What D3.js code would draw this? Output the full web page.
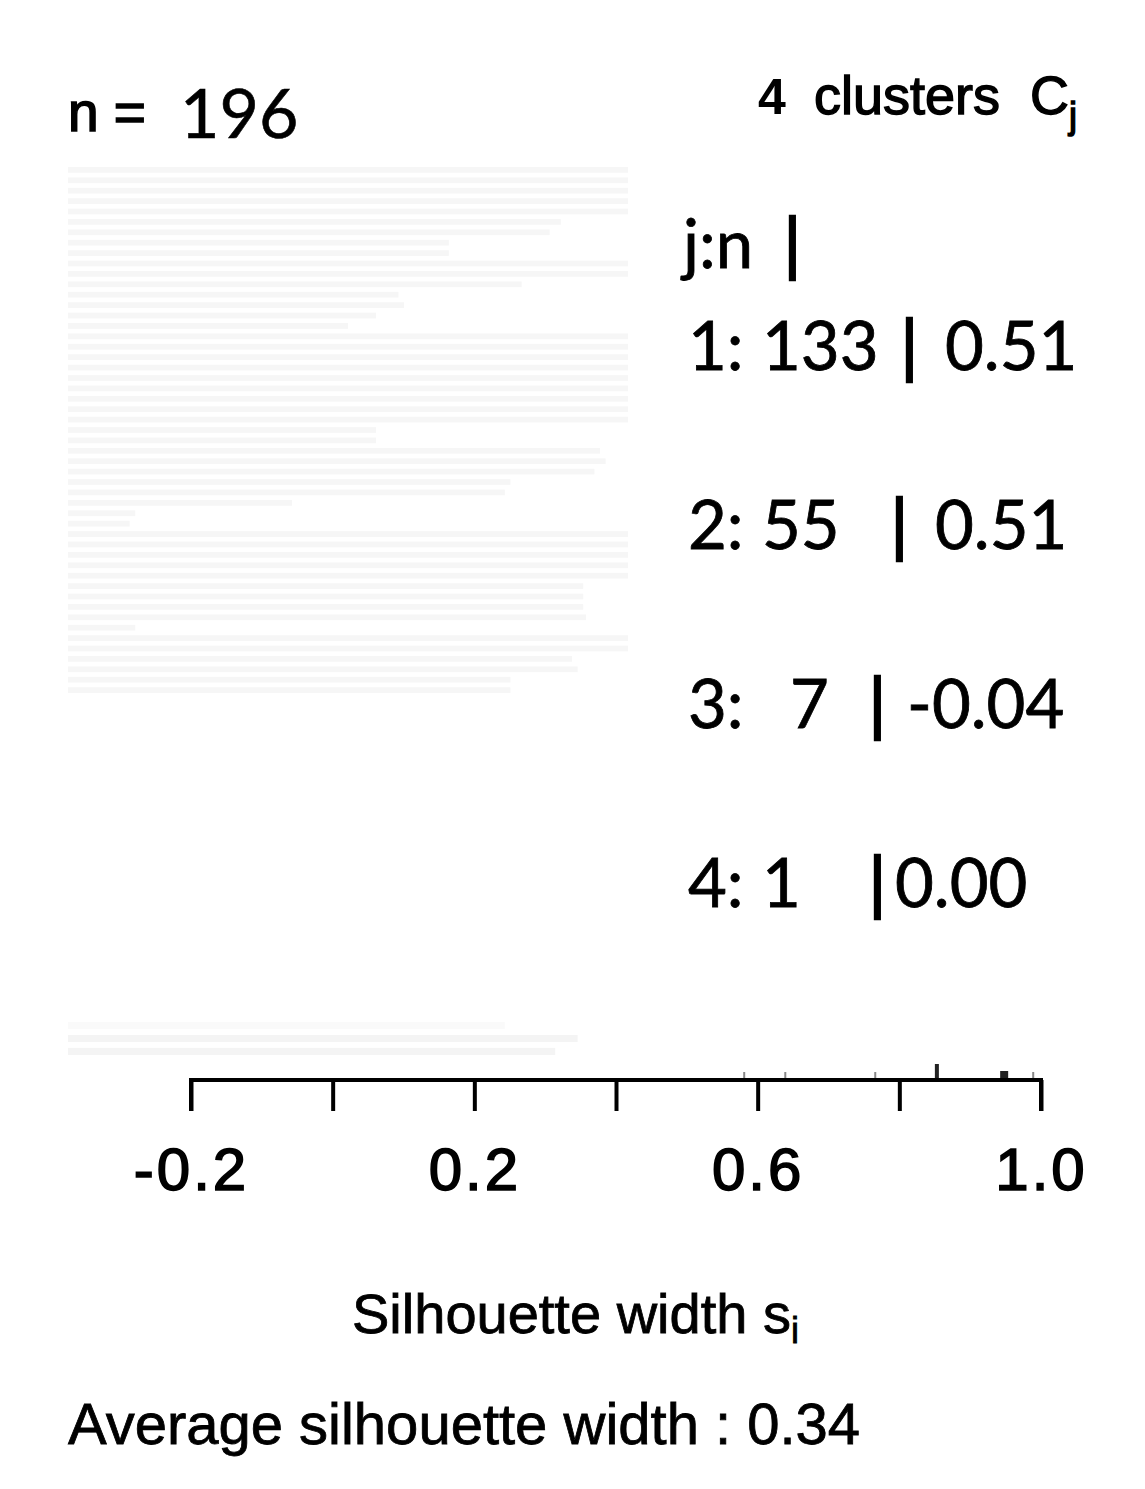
<!DOCTYPE html>
<html>
<head>
<meta charset="utf-8">
<script src="https://cdn.jsdelivr.net/npm/d3@7"></script>
<style>
  html, body { margin: 0; padding: 0; background: #fff; }
  svg { display: block; }
</style>
</head>
<body>
<script>
// ---- Data ----
// relative bar widths of the faint silhouette bars (top block), top to bottom
const barWidths = [
  1.0, 1.0, 1.0, 1.0, 1.0, 0.88, 0.86, 0.68, 0.68, 1.0,
  1.0, 0.81, 0.59, 0.60, 0.55, 0.50, 1.0, 1.0, 1.0, 1.0,
  1.0, 1.0, 1.0, 1.0, 1.0, 0.55, 0.55, 0.95, 0.96, 0.94,
  0.79, 0.78, 0.40, 0.12, 0.11, 1.0, 1.0, 1.0, 1.0, 1.0,
  0.92, 0.92, 0.92, 0.925, 0.12, 1.0, 1.0, 0.90, 0.91, 0.79,
  0.79
];
// faint bars near the bottom
const bottomBarWidths = [0.78, 0.91, 0.87];
// small marks just above the axis (silhouette scale)
const markValues = [0.581, 0.639, 0.766, 0.853, 0.948, 0.989];
const markSizes  = [6, 6, 6, 14, 7, 6];

const axisTicks = [-0.2, 0.0, 0.2, 0.4, 0.6, 0.8, 1.0];
const axisLabels = [-0.2, 0.2, 0.6, 1.0];

const clusterIds    = ["1:", "2:", "3:", "4:"];
const clusterSizes  = ["133", "55", "7", "1"];
const clusterAvg    = ["0.51", "0.51", "-0.04", "0.00"];
const nTotal = 196;
const avgWidth = "0.34";

// ---- Drawing ----
const W = 1145, H = 1489;
const svg = d3.select("body").append("svg").attr("width", W).attr("height", H);

const sans = "'Liberation Sans', Arial, Helvetica, sans-serif";
const calib = "Lato, 'Open Sans', sans-serif";

// faint bar block
const xb = d3.scaleLinear().domain([0, 1]).range([68, 628]);
const yb = d3.scaleBand().domain(d3.range(barWidths.length)).range([167, 693]).paddingInner(0.45);
svg.append("g").selectAll("rect").data(barWidths).join("rect")
  .attr("x", xb(0)).attr("y", (d, i) => yb(i))
  .attr("width", d => xb(d) - xb(0)).attr("height", yb.bandwidth())
  .attr("fill", "#f6f6f6");

const yb2 = d3.scaleBand().domain(d3.range(bottomBarWidths.length)).range([1022, 1055]).paddingInner(0.45);
svg.append("g").selectAll("rect").data(bottomBarWidths).join("rect")
  .attr("x", xb(0)).attr("y", (d, i) => yb2(i))
  .attr("width", d => xb(d) - xb(0)).attr("height", yb2.bandwidth())
  .attr("fill", (d, i) => i === 0 ? "#fafafa" : "#f4f4f4");

// axis
const x = d3.scaleLinear().domain([-0.2, 1.0]).range([191, 1041]);
const axisY = 1080;
const fmt = d => d3.format(".1f")(d).replace("\u2212", "-");
const axis = d3.axisBottom(x).tickValues(axisTicks).tickSize(31).tickSizeOuter(31)
  .tickFormat(d => axisLabels.some(v => Math.abs(v - d) < 1e-9) ? fmt(d) : "");
const gAxis = svg.append("g").attr("transform", `translate(0,${axisY})`).call(axis);
gAxis.select(".domain").attr("stroke", "#000").attr("stroke-width", 4)
  .attr("d", `M${x(-0.2)},31V0H${x(1.0)}V31`);
gAxis.selectAll(".tick line").attr("stroke", "#000").attr("stroke-width", 4);
gAxis.selectAll(".tick text")
  .attr("y", 0).attr("dy", 0)
  .attr("transform", "translate(0,110)")
  .attr("font-family", sans).attr("font-size", 60)
  .attr("letter-spacing", 3)
  .attr("fill", "#000").attr("stroke", "#000").attr("stroke-width", 1.6);

// small marks above axis
svg.append("g").selectAll("rect").data(markValues).join("rect")
  .attr("x", (d, i) => x(d) - (i === 3 ? 2 : (i === 4 ? 4 : 1)))
  .attr("y", (d, i) => axisY - markSizes[i] - 2)
  .attr("width", (d, i) => i === 3 ? 4 : (i === 4 ? 8 : 2))
  .attr("height", (d, i) => markSizes[i])
  .attr("fill", (d, i) => i === 3 || i === 4 ? "#222" : "#888");

// header texts
svg.append("text").attr("x", 68).attr("y", 131)
  .attr("font-family", sans).attr("font-size", 55).attr("fill", "#000")
  .attr("stroke", "#000").attr("stroke-width", 1.6).text("n =");
svg.append("text").attr("x", 180).attr("y", 138)
  .attr("font-family", calib).attr("font-size", 68).attr("fill", "#000")
  .attr("stroke", "#000").attr("stroke-width", 0.6).text(nTotal);

svg.append("text").attr("x", 758).attr("y", 114)
  .attr("font-family", sans).attr("font-size", 50).attr("font-weight", "bold").attr("fill", "#000").text("4");
svg.append("text").attr("x", 814).attr("y", 114)
  .attr("font-family", sans).attr("font-size", 54).attr("fill", "#000")
  .attr("stroke", "#000").attr("stroke-width", 1.4).text("clusters");
const cj = svg.append("text").attr("x", 1030).attr("y", 114)
  .attr("font-family", sans).attr("font-size", 54).attr("fill", "#000")
  .attr("stroke", "#000").attr("stroke-width", 1.4);
cj.append("tspan").text("C");
cj.append("tspan").attr("font-size", 36).attr("dy", 14).text("j");

// legend of clusters
const leg = svg.append("g").attr("font-family", calib).attr("font-size", 67).attr("fill", "#000")
  .attr("stroke", "#000").attr("stroke-width", 0.8);
leg.append("text").attr("x", 683).attr("y", 268).text("j:n");
leg.append("text").attr("x", 784).attr("y", 268).attr("stroke-width", 2.5).text("|");

const rowY = d3.scalePoint().domain(d3.range(4)).range([370, 907]);
const barX = [905, 895, 873, 873];
const avgX = [945, 935, 907, 895];
const sizeX = [762, 762, 790, 762];
clusterIds.forEach((id, i) => {
  const y = rowY(i);
  leg.append("text").attr("x", 688).attr("y", y).text(id);
  leg.append("text").attr("x", sizeX[i]).attr("y", y).text(clusterSizes[i]);
  leg.append("text").attr("x", barX[i] - 4).attr("y", y).attr("stroke-width", 2.5).text("|");
  leg.append("text").attr("x", avgX[i]).attr("y", y).text(clusterAvg[i]);
});

// x axis title
const xt = svg.append("text").attr("x", 352).attr("y", 1333)
  .attr("font-family", sans).attr("font-size", 56).attr("fill", "#000")
  .attr("stroke", "#000").attr("stroke-width", 0.8);
xt.append("tspan").text("Silhouette width s");
xt.append("tspan").attr("font-size", 36).attr("dy", 10).text("i");

// average
svg.append("text").attr("x", 68).attr("y", 1444)
  .attr("font-family", sans).attr("font-size", 58).attr("fill", "#000")
  .attr("stroke", "#000").attr("stroke-width", 0.8)
  .text("Average silhouette width : " + avgWidth);
</script>
</body>
</html>
